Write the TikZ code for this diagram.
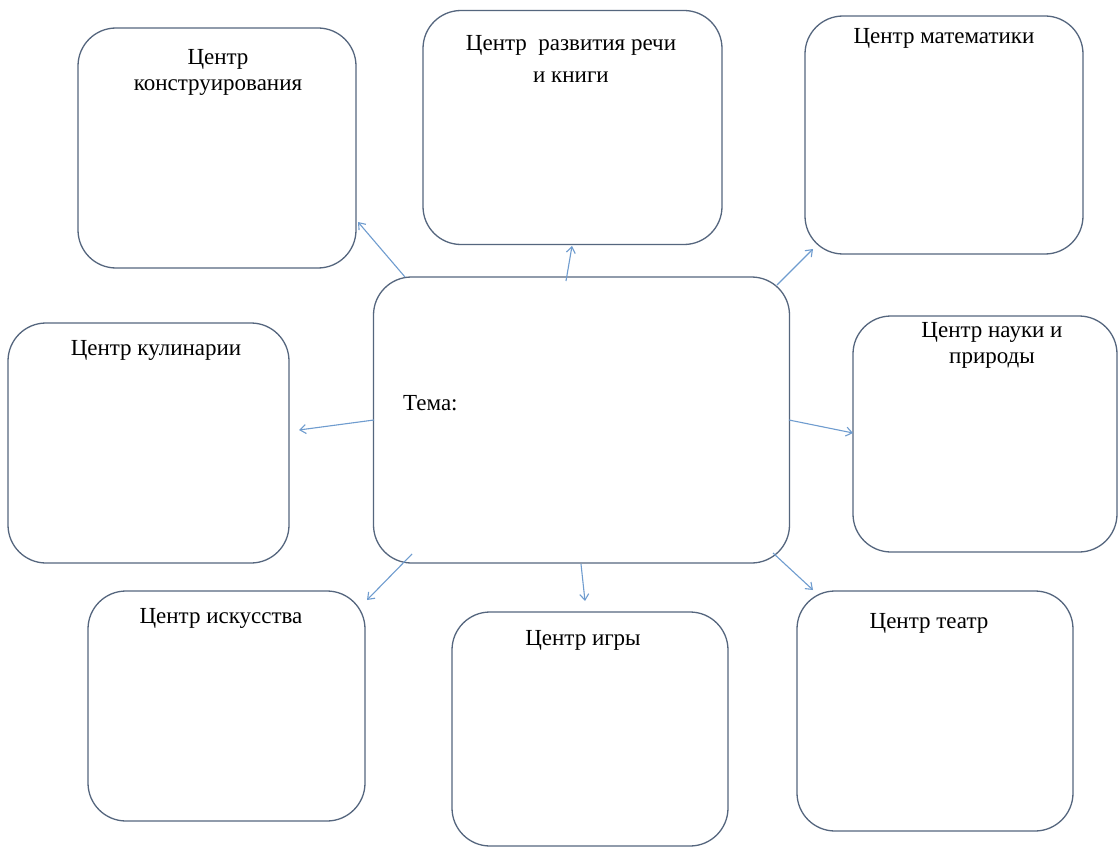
\documentclass[tikz,border=0pt]{standalone}
\usepackage{fontspec}
\setmainfont{Liberation Serif}
\usetikzlibrary{arrows.meta}
\definecolor{boxline}{HTML}{55667E}
\definecolor{arrowc}{HTML}{6F9CCF}
\begin{document}
\begin{tikzpicture}[x=1pt,y=-1pt,
  box/.style={draw=boxline, line width=1.3pt, rounded corners=38pt, inner sep=0pt, fill=white},
  lbl/.style={inner sep=0pt, align=center, font=\fontsize{23}{26}\selectfont},
  conn/.style={draw=arrowc, line width=1.1pt, -{Straight Barb[length=6pt,width=9pt,line width=1.1pt]}}]
\useasboundingbox[fill=white] (0,0) rectangle (1119,848);
% boxes
\node[box, minimum width=278, minimum height=240] (b1) at (217,148) {};
\node[box, minimum width=299, minimum height=234] (b2) at (572.5,127.5) {};
\node[box, minimum width=278, minimum height=238] (b3) at (944,135) {};
\node[box, minimum width=416, minimum height=286] (c) at (581.5,420) {};
\node[box, minimum width=281, minimum height=240] (b5) at (148.5,443) {};
\node[box, minimum width=264, minimum height=236] (b6) at (985,434) {};
\node[box, minimum width=277, minimum height=230] (b7) at (226.5,706) {};
\node[box, minimum width=276, minimum height=234] (b8) at (590,729) {};
\node[box, minimum width=276, minimum height=240] (b9) at (935,711) {};
% labels
\node[lbl] (t1) at (218,72) {Центр\\конструирования};
\node[lbl] (t2) at (571,59) {Центр\ \ развития речи\\[6pt]и книги};
\node[lbl] (t3) at (944,38) {Центр математики};
\node[lbl, anchor=west] (t4) at (403,403) {Тема:};
\node[lbl] (t5) at (156,350) {Центр кулинарии};
\node[lbl] (t6) at (992,345) {Центр науки и\\природы};
\node[lbl] (t7) at (221,618) {Центр искусства};
\node[lbl] (t8) at (583,640) {Центр игры};
\node[lbl] (t9) at (929,623) {Центр театр};
% connector end points
\coordinate (a1s) at (405,277);
\coordinate (a1e) at (358,222);
\coordinate (a2s) at (566,281);
\coordinate (a2e) at (572,246);
\coordinate (a3s) at (777,285);
\coordinate (a3e) at (813,249);
\coordinate (a4s) at (374,420);
\coordinate (a4e) at (299,430);
\coordinate (a5s) at (789,420);
\coordinate (a5e) at (853,433);
\coordinate (a6s) at (412,554);
\coordinate (a6e) at (367,600);
\coordinate (a7s) at (581,564);
\coordinate (a7e) at (585,601);
\coordinate (a8s) at (773,553);
\coordinate (a8e) at (813,590);
\draw[conn] (a1s) -- (a1e);
\draw[conn] (a2s) -- (a2e);
\draw[conn] (a3s) -- (a3e);
\draw[conn] (a4s) -- (a4e);
\draw[conn] (a5s) -- (a5e);
\draw[conn] (a6s) -- (a6e);
\draw[conn] (a7s) -- (a7e);
\draw[conn] (a8s) -- (a8e);
\end{tikzpicture}
\end{document}
